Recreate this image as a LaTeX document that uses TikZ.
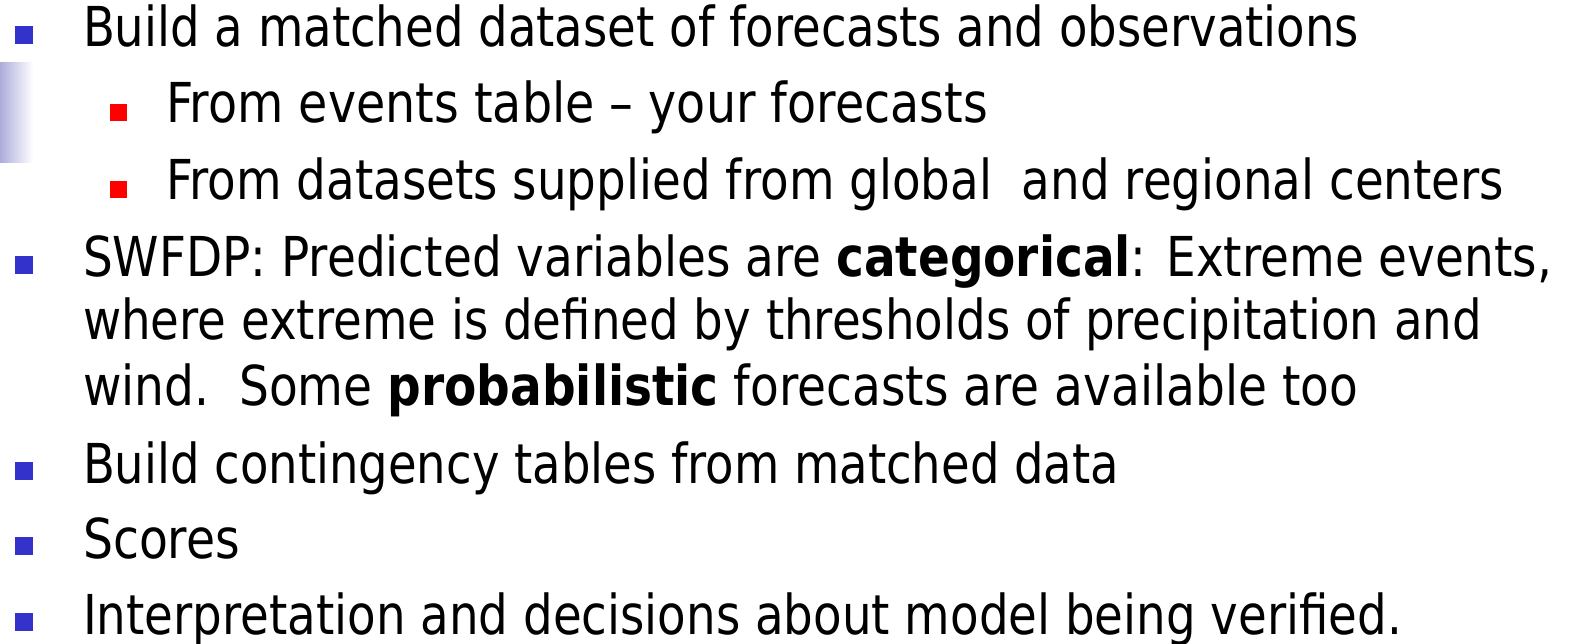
\documentclass[tikz,border=0pt]{standalone}
\usepackage{fontspec}
\setmainfont{DejaVu Sans}
\usepackage{graphicx}
\definecolor{bulblue}{HTML}{3333CC}
\definecolor{bulred}{HTML}{FF0000}
\definecolor{barlav}{RGB}{172,172,220}
\newcommand{\fitto}[2]{\resizebox{#1}{\height}{#2}}
\tikzset{
  txt/.style={anchor=base west, inner sep=0pt, outer sep=0pt, font=\fontsize{55pt}{66pt}\selectfont},
  mainbul/.style={anchor=south west, fill=bulblue, inner sep=0pt, minimum width=18pt, minimum height=18pt},
  subbul/.style={anchor=south west, fill=bulred, inner sep=0pt, minimum width=17pt, minimum height=17pt},
}
\begin{document}
\begin{tikzpicture}[x=1pt,y=-1pt]
\useasboundingbox (0,0) rectangle (1572,644);
\fill[white] (0,0) rectangle (1572,644);
\shade[left color=barlav, right color=white] (0,63) rectangle (33,163);

\node[mainbul] (b1) at (15,44) {};
\node[txt] (t1) at (83,47) {\fitto{1276pt}{Build a matched dataset of forecasts and observations}};

\node[subbul] (b2) at (110,121) {};
\node[txt] (t2) at (166,123) {\fitto{822pt}{From events table – your forecasts}};

\node[subbul] (b3) at (110,198) {};
\node[txt] (t3) at (166,200) {\fitto{1338pt}{From datasets supplied from global\ \ and regional centers}};

\node[mainbul] (b4) at (15,274) {};
\node[txt] (t4) at (83,277) {\fitto{1469pt}{SWFDP: Predicted variables are \textbf{categorical}: Extreme events,}};
\node[txt] (t5) at (83,340) {\fitto{1399pt}{where extreme is defined by thresholds of precipitation and}};
\node[txt] (t6) at (83,405) {\fitto{1275pt}{wind.\ \ Some \textbf{probabilistic} forecasts are available too}};

\node[mainbul] (b7) at (15,480) {};
\node[txt] (t7) at (83,483) {\fitto{1036pt}{Build contingency tables from matched data}};

\node[mainbul] (b8) at (15,555) {};
\node[txt] (t8) at (83,558) {\fitto{157pt}{Scores}};

\node[mainbul] (b9) at (15,631) {};
\node[txt] (t9) at (83,634) {\fitto{1319pt}{Interpretation and decisions about model being verified.}};
\end{tikzpicture}
\end{document}
